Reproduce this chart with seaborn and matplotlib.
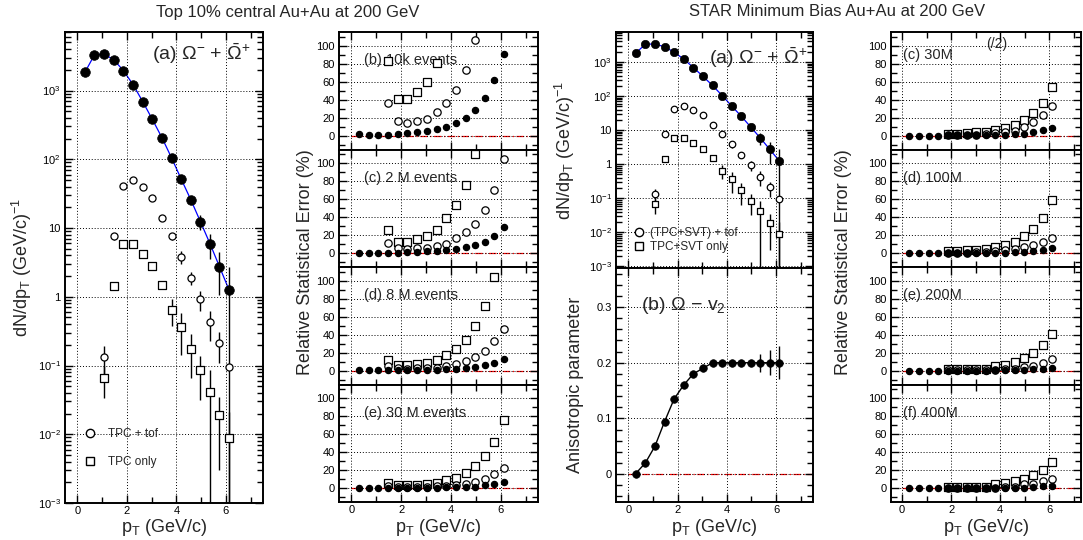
import numpy as np
import pandas as pd
import seaborn as sns
import matplotlib.pyplot as plt
from matplotlib.ticker import MultipleLocator, FixedLocator, LogLocator, NullFormatter
from matplotlib.lines import Line2D

nan = np.nan

# pT bin centres (GeV/c)
pt = [0.3, 0.69, 1.08, 1.47, 1.86, 2.25, 2.64, 3.03, 3.42, 3.81, 4.2, 4.59, 4.97, 5.36, 5.74, 6.13]

# Omega spectra (same values in both spectrum panels)
spec_all = [1830, 3300, 3400, 2800, 1950, 1220, 690, 380, 205, 104, 51, 25.5, 12.4, 5.9, 2.75, 1.25]
spec_all_err = [0, 0, 0, 0, 0, 0, 0, 0, 0, 0, 0, 0, 3.0, 2.3, 1.7, 1.5]
spec_tof = [nan, nan, 0.132, 7.6, 41, 50, 39, 27, 14.1, 7.6, 3.8, 1.9, 0.92, 0.43, 0.21, 0.095]
spec_tof_err = [nan, nan, 0.06, 0.8, 2, 2, 2, 1.5, 1.5, 1.0, 0.8, 0.4, 0.3, 0.2, 0.1, 0.0]
spec_tpc = [nan, nan, 0.066, 1.45, 5.9, 5.9, 4.2, 2.8, 1.5, 0.65, 0.36, 0.175, 0.085, 0.041, 0.019, 0.0088]
spec_tpc_err = [nan, nan, 0.032, 0.15, 0.5, 0.5, 0.4, 0.3, 0.2, 0.27, 0.22, 0.11, 0.053, 0.045, 0.016, 0.012]

# v2 of Omega
v2 = [0.001, 0.02, 0.05, 0.094, 0.135, 0.16, 0.18, 0.19, 0.2, 0.2, 0.2, 0.2, 0.2, 0.2, 0.2, 0.2]
v2_err = [0, 0, 0, 0, 0, 0, 0, 0, 0, 0, 0, 0, 0.005, 0.016, 0.022, 0.03]

# relative statistical errors (%), central Au+Au
b_all = [1.9, 1.1, 1.1, 1.5, 1.9, 3, 4, 6, 7.4, 10, 14, 20, 29, 42, 62, 91]
b_tof = [nan, nan, nan, 36.7, 16, 14, 16, 19, 26.7, 36.7, 51, 73, 106, nan, nan, nan]
b_tpc = [nan, nan, nan, 83, 41, 41, 49, 60, 81, nan, nan, nan, nan, nan, nan, nan]
c_all = [0.4, 0.4, 0.4, 0.7, 0.7, 1.1, 1.5, 2.2, 3, 3.7, 5.2, 6.7, 9.3, 13, 19.6, 28.9]
c_tof = [nan, nan, nan, 11.9, 5.6, 4.8, 5.6, 6.3, 8.1, 11, 16.7, 23.3, 33, 48.5, 70.7, 104]
c_tpc = [nan, nan, nan, 26.3, 13, 13, 15.6, 18.9, 26, 39.6, 53.7, 76, 110, nan, nan, nan]
d_all = [0.7, 0.7, 0.7, 0.7, 1.1, 1.1, 1.1, 1.1, 1.5, 1.8, 2.2, 2.9, 4.4, 6.6, 9.2, 13.6]
d_tof = [nan, nan, nan, 5.5, 2.9, 2.6, 2.9, 3.3, 3.7, 5.5, 8, 11, 15.8, 22.3, 32.6, 46.5]
d_tpc = [nan, nan, nan, 12, 6.6, 6.6, 7.7, 9.2, 12, 18, 24.5, 34.4, 49.5, 71.4, 104, nan]
e_all = [0.4, 0.4, 0.4, 0.4, 0.4, 0.4, 0.4, 0.4, 0.7, 1.1, 1.1, 1.5, 1.8, 3.3, 4.8, 7]
e_tof = [nan, nan, nan, 2.9, 1.1, 1.1, 1.1, 1.5, 2.2, 2.5, 3.5, 5, 7.3, 11, 15.8, 23]
e_tpc = [nan, nan, nan, 5.9, 3.7, 3.7, 4, 4.8, 5.9, 8.8, 11.7, 17.2, 24.5, 35.5, 51.6, 75.5]

# relative statistical errors (%), minimum bias Au+Au
rc_all = [0.2, 0.2, 0.2, 0.2, 0.5, 0.5, 0.5, 0.6, 0.7, 0.9, 1.1, 1.6, 2.4, 4.6, 6.5, 9.2]
rc_tof = [nan, nan, nan, nan, 1, 1, 1.1, 1.5, 2, 3, 4, 6, 10.3, 15.8, 22.7, 32.6]
rc_tpc = [nan, nan, nan, nan, 2.6, 2.6, 3.3, 4, 4.8, 7, 9.2, 12, 17.6, 25, 36.6, 54.2]
rd_all = [0.2, 0.2, 0.2, 0.2, 0.4, 0.4, 0.5, 0.5, 0.6, 0.7, 0.9, 1.2, 1.7, 2.4, 3.7, 5.5]
rd_tof = [nan, nan, nan, nan, 0.8, 0.8, 0.9, 1.1, 1.5, 2.2, 3.7, 4.8, 6.6, 8.8, 12.5, 17.6]
rd_tpc = [nan, nan, nan, nan, 2.9, 2.9, 3.3, 3.7, 4.8, 7.3, 9.5, 13.2, 19, 27.5, 39.6, 58.6]
re_all = [0.2, 0.2, 0.2, 0.2, 0.3, 0.3, 0.3, 0.4, 0.4, 0.5, 0.6, 0.8, 1.1, 1.8, 2.6, 3.7]
re_tof = [nan, nan, nan, nan, 0.5, 0.5, 0.6, 0.7, 0.9, 1.3, 1.8, 2.2, 4, 5.9, 9.2, 12.8]
re_tpc = [nan, nan, nan, nan, 2, 2, 2.1, 2.3, 2.6, 5, 7, 10.3, 13.9, 20, 28.2, 41.4]
rf_all = [0.2, 0.2, 0.2, 0.2, 0.2, 0.2, 0.3, 0.3, 0.3, 0.4, 0.5, 0.6, 0.8, 1.5, 2.2, 2.9]
rf_tof = [nan, nan, nan, nan, 0.4, 0.4, 0.4, 0.5, 0.7, 1, 1.4, 2, 4.4, 5, 7.7, 9.9]
rf_tpc = [nan, nan, nan, nan, 1.5, 1.5, 1.6, 1.8, 2, 4.4, 6.2, 7.7, 10.6, 14.6, 20.5, 29.3]

left_labels = ['(b) 10k events', '(c) 2 M events', '(d) 8 M events', '(e) 30 M events']
right_labels = ['(c) 30M', '(d) 100M', '(e) 200M', '(f) 400M']

sns.set_theme(style="ticks")
plt.rcParams['font.family'] = ['Liberation Sans', 'DejaVu Sans']
plt.rcParams['mathtext.fontset'] = 'custom'
plt.rcParams['mathtext.rm'] = 'Liberation Sans'
plt.rcParams['mathtext.it'] = 'Liberation Sans:italic'
plt.rcParams['mathtext.bf'] = 'Liberation Sans:bold'

W, H = 1083, 540
fig = plt.figure(figsize=(W / 100, H / 100), dpi=100)


def box(l, r, t, b):
    return fig.add_axes([l / W, 1 - b / H, (r - l) / W, (b - t) / H])


def frame(ax, xlim=(-0.5, 7.5)):
    ax.set_xlim(*xlim)
    ax.xaxis.set_major_locator(MultipleLocator(2))
    ax.xaxis.set_minor_locator(MultipleLocator(1))
    ax.tick_params(which='both', direction='in', top=True, right=True, labelsize=8,
                   width=1.0, color='black', labelcolor='black', pad=3)
    ax.tick_params(axis='x', pad=2)
    ax.tick_params(which='major', length=6)
    ax.tick_params(which='minor', length=4)
    ax.grid(True, which='major', color='black', ls=(0, (1, 2)), lw=0.7)
    for sp in ax.spines.values():
        sp.set_linewidth(1.4)
        sp.set_color('black')
    ax.set_facecolor('white')
    ax.set_axisbelow(False)


def zero_line(ax):
    x0, x1 = ax.get_xlim()
    ax.axhline(0, xmin=(0 - x0) / (x1 - x0), color='red', ls=(0, (6, 2, 1, 2)), lw=0.9, zorder=1.5)


def err_panel(ax, yall, ytof, ytpc, label, label_y, xlim, show_x):
    frame(ax, xlim)
    ax.set_ylim(-15, 115)
    ax.yaxis.set_major_locator(MultipleLocator(20))
    ax.yaxis.set_minor_locator(MultipleLocator(10))
    zero_line(ax)
    df = pd.DataFrame({'pt': pt, 'all': yall, 'tof': ytof, 'tpc': ytpc})
    for col, mk, fc, s in [('tpc', 's', 'white', 30), ('tof', 'o', 'white', 28), ('all', 'o', 'black', 20)]:
        ax.errorbar(df['pt'], df[col], xerr=0.11, fmt='none', ecolor='black', elinewidth=0.7, zorder=2)
        sns.scatterplot(data=df, x='pt', y=col, marker=mk, s=s, facecolor=fc, edgecolor='black',
                        linewidth=0.9, ax=ax, zorder=3, clip_on=True)
    ax.text(0.05 if xlim[0] > -0.5 else 0.5, label_y, label, fontsize=10.5, va='center', ha='left', zorder=0.5)
    ax.set_xlabel('')
    ax.set_ylabel('')
    if not show_x:
        ax.tick_params(labelbottom=False)


def spectrum(ax, ms_all, ms_open):
    frame(ax)
    ax.set_yscale('log')
    df = pd.DataFrame({'pt': pt, 'all': spec_all, 'tof': spec_tof, 'tpc': spec_tpc})
    sns.lineplot(data=df, x='pt', y='all', color='#0000ff', lw=0.9, ax=ax, zorder=2, errorbar=None)
    ax.errorbar(pt, spec_tof, yerr=spec_tof_err, fmt='none', ecolor='black', elinewidth=1.0, zorder=2)
    ax.errorbar(pt, spec_tpc, yerr=spec_tpc_err, fmt='none', ecolor='black', elinewidth=1.0, zorder=2)
    ax.errorbar(pt, spec_all, yerr=spec_all_err, fmt='none', ecolor='black', elinewidth=1.0, zorder=2)
    sns.scatterplot(data=df, x='pt', y='tof', marker='o', s=ms_open, facecolor='white',
                    edgecolor='black', linewidth=0.9, ax=ax, zorder=3)
    sns.scatterplot(data=df, x='pt', y='tpc', marker='s', s=ms_open, facecolor='white',
                    edgecolor='black', linewidth=0.9, ax=ax, zorder=3)
    sns.scatterplot(data=df, x='pt', y='all', marker='o', s=ms_all, facecolor='black',
                    edgecolor='black', linewidth=0.5, ax=ax, zorder=4)
    ax.yaxis.set_major_locator(FixedLocator([1e-3, 1e-2, 1e-1, 1, 10, 100, 1000]))
    ax.set_yticklabels([r'$10^{-3}$', r'$10^{-2}$', r'$10^{-1}$', '1', '10', r'$10^{2}$', r'$10^{3}$'])
    ax.yaxis.set_minor_locator(LogLocator(base=10, subs=np.arange(2, 10), numticks=20))
    ax.yaxis.set_minor_formatter(NullFormatter())
    ax.set_xlabel('')
    ax.set_ylabel('')


ylab = r'dN/dp$_{\rm T}$ (GeV/c)$^{-1}$'
xlab = r'p$_{\rm T}$ (GeV/c)'
omega = r'(a) $\Omega^{-}$ + $\bar{\Omega}^{+}$'


def x_title(xc):
    fig.text(xc / W, 1 - 532 / H, xlab, fontsize=13, ha='center', va='baseline')


# ---- left spectrum ----
ax1 = box(65, 263, 32, 503)
spectrum(ax1, 48, 26)
ax1.set_ylim(1e-3, 7.1e3)
ax1.text(0.44, 0.955, omega, transform=ax1.transAxes, fontsize=14, va='center', ha='left')
h1 = [Line2D([], [], ls='none', marker='o', mfc='white', mec='black', ms=6),
      Line2D([], [], ls='none', marker='s', mfc='white', mec='black', ms=6)]
ax1.legend(h1, ['TPC + tof', 'TPC only'], loc='center left', bbox_to_anchor=((83 - 65) / 198, 1 - (448 - 32) / 471),
           frameon=False, fontsize=8.5, handlelength=1.2, handletextpad=0.9, labelspacing=1.3,
           borderpad=0, borderaxespad=0)
fig.text(22 / W, 1 - 267 / H, ylab, rotation=90, fontsize=13, ha='center', va='center')
x_title(164)

# ---- left error stack ----
left_sets = [(b_all, b_tof, b_tpc), (c_all, c_tof, c_tpc), (d_all, d_tof, d_tpc), (e_all, e_tof, e_tpc)]
edges = [32, 149.5, 267, 384.5, 502]
for i, (ya, yt, yp) in enumerate(left_sets):
    ax = box(339, 538, edges[i], edges[i + 1])
    err_panel(ax, ya, yt, yp, left_labels[i], 84, (-0.5, 7.5), i == 3)
fig.text(305 / W, 1 - 262 / H, 'Relative Statistical Error (%)', rotation=90, fontsize=13, ha='center', va='center')
x_title(438)

# ---- right spectrum ----
ax2 = box(616, 813, 32, 268)
spectrum(ax2, 36, 22)
ax2.set_ylim(9e-4, 7.6e3)
ax2.tick_params(labelbottom=False)
ax2.text(0.472, 0.89, omega, transform=ax2.transAxes, fontsize=14, va='center', ha='left')
ax2.legend(h1, ['(TPC+SVT) + tof', 'TPC+SVT only'], loc='center left',
           bbox_to_anchor=((632 - 616) / 197, 1 - (240 - 32) / 236),
           frameon=False, fontsize=8.5, handlelength=1.2, handletextpad=0.35, labelspacing=0.12,
           borderpad=0, borderaxespad=0)
fig.text(565 / W, 1 - 150 / H, ylab, rotation=90, fontsize=13, ha='center', va='center')

# ---- v2 ----
ax3 = box(616, 813, 268, 502)
frame(ax3)
ax3.set_ylim(-0.05, 0.37)
ax3.yaxis.set_major_locator(MultipleLocator(0.1))
ax3.yaxis.set_minor_locator(MultipleLocator(0.02))
ax3.set_yticks([0, 0.1, 0.2, 0.3])
ax3.set_yticklabels(['0', '0.1', '0.2', '0.3'])
zero_line(ax3)
dv = pd.DataFrame({'pt': pt, 'v2': v2})
sns.lineplot(data=dv, x='pt', y='v2', color='black', lw=1.0, ax=ax3, zorder=2, errorbar=None)
ax3.errorbar(pt, v2, yerr=v2_err, fmt='none', ecolor='black', elinewidth=1.0, zorder=2)
sns.scatterplot(data=dv, x='pt', y='v2', marker='o', s=30, facecolor='black', edgecolor='black',
                linewidth=0.5, ax=ax3, zorder=3)
ax3.set_xlabel('')
ax3.set_ylabel('')
ax3.text(0.127, 0.838, r'(b) $\Omega$ $-$ v$_{2}$', transform=ax3.transAxes, fontsize=14, va='center', ha='left')
fig.text(575 / W, 1 - 385 / H, 'Anisotropic parameter', rotation=90, fontsize=13, ha='center', va='center')
x_title(714)

# ---- right error stack ----
right_sets = [(rc_all, rc_tof, rc_tpc), (rd_all, rd_tof, rd_tpc), (re_all, re_tof, re_tpc), (rf_all, rf_tof, rf_tpc)]
for i, (ya, yt, yp) in enumerate(right_sets):
    ax = box(891, 1081, edges[i], edges[i + 1])
    err_panel(ax, ya, yt, yp, right_labels[i], 89 if i == 0 else 84, (-0.45, 7.3), i == 3)
    if i == 0:
        ax.text(3.85, 102, '(/2)', fontsize=10, ha='center', va='center', zorder=0.5)
fig.text(843 / W, 1 - 262 / H, 'Relative Statistical Error (%)', rotation=90, fontsize=13, ha='center', va='center')
x_title(986)

# ---- titles ----
fig.text(288 / W, 1 - 12 / H, 'Top 10% central Au+Au at 200 GeV', fontsize=12, ha='center', va='center')
fig.text(837 / W, 1 - 12 / H, 'STAR Minimum Bias Au+Au at 200 GeV', fontsize=12, ha='center', va='center')

fig.savefig('out.png', dpi=100)
